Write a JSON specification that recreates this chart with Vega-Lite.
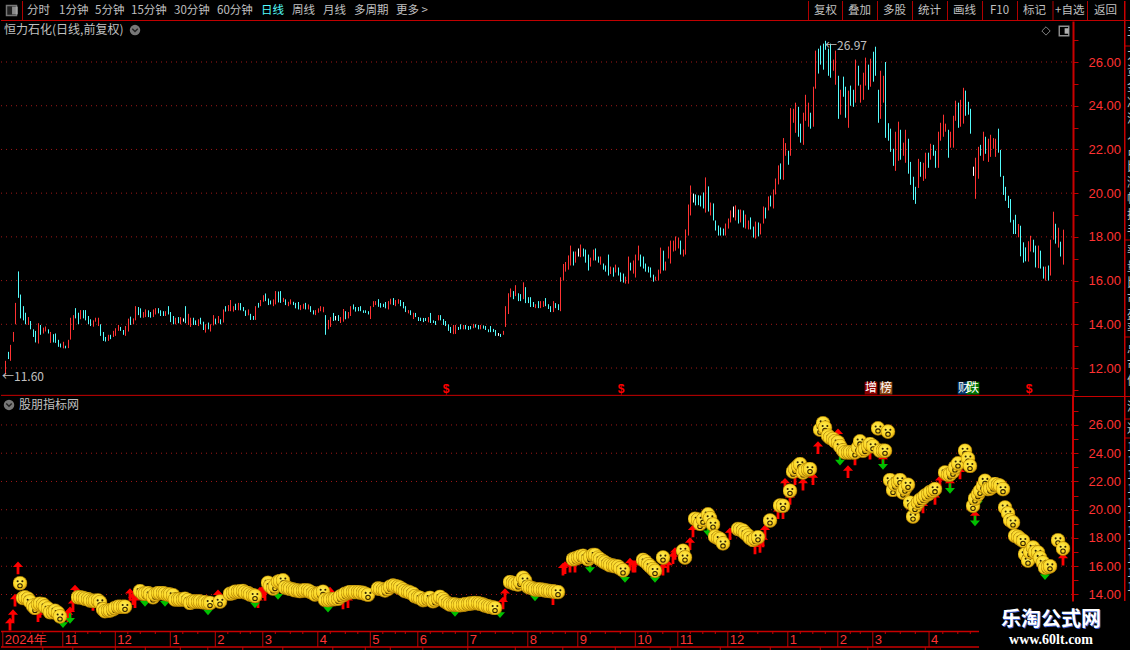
{
"$schema":"https://vega.github.io/schema/vega-lite/v6.json",
"background":"#000000",
"padding":0,
"spacing":0,
"bounds":"flush",
"resolve":{"scale":{"color":"independent"}},
"config":{"view":{"stroke":null},"text":{"font":"Noto Sans CJK SC"}},
"datasets":{
"bars":[
{"i":0,"l":11.7,"h":12.33,"c":"r"},{"i":1,"l":12.41,"h":12.74,"c":"b"},{"i":2,"l":12.33,"h":13.06,"c":"r"},{"i":3,"l":13.2,"h":13.65,"c":"r"},{"i":4,"l":14,"h":14.98,"c":"r"},{"i":5,"l":15.21,"h":16.42,"c":"b"},{"i":6,"l":14.27,"h":15.36,"c":"b","s":14.8},{"i":7,"l":14.18,"h":14.83,"c":"b","s":13.75},{"i":8,"l":14,"h":14.53,"c":"b","s":13.8},{"i":9,"l":13.97,"h":14.33,"c":"r","s":13.7},
{"i":10,"l":13.77,"h":14.15,"c":"b","s":13.5},{"i":11,"l":13.42,"h":13.77,"c":"b","s":13.2},{"i":12,"l":13.17,"h":13.7,"c":"b","s":13.05},{"i":13,"l":13.12,"h":14.05,"c":"r","s":13.3},{"i":14,"l":13.52,"h":13.97,"c":"b","s":13.35},{"i":15,"l":13.58,"h":13.85,"c":"r","s":13.3},{"i":16,"l":13.67,"h":13.9,"c":"r","s":13.15},{"i":17,"l":13.58,"h":13.77,"c":"b","s":13},{"i":18,"l":13.15,"h":13.65,"c":"r","s":12.75},{"i":19,"l":13.17,"h":13.55,"c":"b","s":12.75},
{"i":20,"l":13.15,"h":13.58,"c":"b","s":12.85},{"i":21,"l":12.97,"h":13.29,"c":"b","s":12.7},{"i":22,"l":12.94,"h":13.12,"c":"b","s":12.45},{"i":23,"l":12.9,"h":13.2,"c":"r"},{"i":24,"l":12.9,"h":13.02,"c":"b"},{"i":25,"l":12.91,"h":13.29,"c":"r"},{"i":26,"l":13.3,"h":14.3,"c":"r"},{"i":27,"l":13.74,"h":14.42,"c":"r"},{"i":28,"l":14.27,"h":14.74,"c":"b"},{"i":29,"l":14,"h":14.53,"c":"b","s":13.8},
{"i":30,"l":14.23,"h":14.65,"c":"r","s":13.8},{"i":31,"l":14.27,"h":14.65,"c":"b","s":13.76},{"i":32,"l":14.18,"h":14.65,"c":"b","s":13.7},{"i":33,"l":14,"h":14.38,"c":"b","s":13.67},{"i":34,"l":13.92,"h":14.23,"c":"b","s":13.58},{"i":35,"l":13.89,"h":14.18,"c":"r","s":13.55},{"i":36,"l":14.12,"h":14.3,"c":"r","s":13.55},{"i":37,"l":13.92,"h":14.3,"c":"r","s":13.58},{"i":38,"l":13.47,"h":14,"c":"b","s":13.45},{"i":39,"l":13.24,"h":13.65,"c":"b","s":12.95},
{"i":40,"l":13.21,"h":13.42,"c":"b","s":12.82},{"i":41,"l":13.24,"h":13.52,"c":"r","s":12.87},{"i":42,"l":13.32,"h":13.52,"c":"b","s":12.87},{"i":43,"l":13.42,"h":13.7,"c":"r","s":12.95},{"i":44,"l":13.47,"h":13.82,"c":"r","s":13.05},{"i":45,"l":13.7,"h":13.97,"c":"r","s":13.13},{"i":46,"l":13.7,"h":13.88,"c":"b","s":13.13},{"i":47,"l":13.52,"h":13.74,"c":"b","s":13.13},{"i":48,"l":13.47,"h":13.92,"c":"r","s":13.13},{"i":49,"l":13.67,"h":14.26,"c":"r"},
{"i":50,"l":13.97,"h":14.35,"c":"b"},{"i":51,"l":14,"h":14.27,"c":"r"},{"i":52,"l":14.18,"h":14.83,"c":"r"},{"i":53,"l":14.42,"h":14.79,"c":"b"},{"i":54,"l":14.3,"h":14.73,"c":"b","s":14.24},{"i":55,"l":14.3,"h":14.56,"c":"r","s":14.05},{"i":56,"l":14.33,"h":14.68,"c":"r","s":14.05},{"i":57,"l":14.33,"h":14.64,"c":"b","s":14.1},{"i":58,"l":14.3,"h":14.56,"c":"b","s":14},{"i":59,"l":14.33,"h":14.68,"c":"r","s":13.8},
{"i":60,"l":14.45,"h":14.74,"c":"r","s":14},{"i":61,"l":14.5,"h":14.74,"c":"b","s":14.1},{"i":62,"l":14.38,"h":14.64,"c":"b","s":14.1},{"i":63,"l":14.38,"h":14.6,"c":"b","s":14.1},{"i":64,"l":14.38,"h":14.6,"c":"r","s":14.05},{"i":65,"l":14.45,"h":14.83,"c":"b","s":14},{"i":66,"l":14.1,"h":14.56,"c":"b","s":14},{"i":67,"l":14,"h":14.38,"c":"b","s":13.95},{"i":68,"l":14,"h":14.3,"c":"r","s":13.65},{"i":69,"l":14.05,"h":14.33,"c":"b","s":13.65},
{"i":70,"l":14,"h":14.33,"c":"r","s":13.65},{"i":71,"l":14.12,"h":14.27,"c":"w","s":13.65},{"i":72,"l":14.05,"h":14.83,"c":"b","s":13.7},{"i":73,"l":13.97,"h":14.48,"c":"r","s":13.6},{"i":74,"l":13.88,"h":14.3,"c":"r","s":13.4},{"i":75,"l":13.97,"h":14.3,"c":"b","s":13.5},{"i":76,"l":13.97,"h":14.18,"c":"b","s":13.5},{"i":77,"l":13.92,"h":14.23,"c":"r","s":13.5},{"i":78,"l":14,"h":14.3,"c":"b","s":13.5},{"i":79,"l":13.74,"h":14.12,"c":"b","s":13.45},
{"i":80,"l":13.62,"h":14,"c":"r","s":13.45},{"i":81,"l":13.77,"h":14.08,"c":"b","s":13.4},{"i":82,"l":13.67,"h":14,"c":"r","s":13.4},{"i":83,"l":13.95,"h":14.42,"c":"r"},{"i":84,"l":14,"h":14.26,"c":"b"},{"i":85,"l":14.05,"h":14.38,"c":"r"},{"i":86,"l":14,"h":14.23,"c":"b","s":13.5},{"i":87,"l":14.08,"h":14.68,"c":"r"},{"i":88,"l":14.58,"h":14.83,"c":"b"},{"i":89,"l":14.6,"h":14.88,"c":"r"},
{"i":90,"l":14.6,"h":15.11,"c":"r","s":14.05},{"i":91,"l":14.58,"h":14.83,"c":"r","s":14.1},{"i":92,"l":14.65,"h":14.94,"c":"b","s":14.2},{"i":93,"l":14.64,"h":14.98,"c":"r","s":14.2},{"i":94,"l":14.64,"h":14.97,"c":"b","s":14.22},{"i":95,"l":14.6,"h":14.79,"c":"b","s":14.25},{"i":96,"l":14.38,"h":14.64,"c":"b","s":14.15},{"i":97,"l":14.41,"h":14.68,"c":"r","s":14.1},{"i":98,"l":14.2,"h":14.48,"c":"b","s":14},{"i":99,"l":14.2,"h":14.38,"c":"b","s":13.95},
{"i":100,"l":14.2,"h":14.83,"c":"r","s":13.9},{"i":101,"l":14.76,"h":14.98,"c":"b"},{"i":102,"l":14.83,"h":15.11,"c":"r"},{"i":103,"l":15.03,"h":15.33,"c":"r"},{"i":104,"l":15.06,"h":15.41,"c":"b"},{"i":105,"l":14.88,"h":15.18,"c":"b","s":14.83},{"i":106,"l":14.91,"h":15.09,"c":"b","s":14.6},{"i":107,"l":14.83,"h":15.14,"c":"r","s":14.43},{"i":108,"l":14.91,"h":15.52,"c":"r","s":14.6},{"i":109,"l":15,"h":15.5,"c":"b","s":14.9},
{"i":110,"l":14.98,"h":15.52,"c":"b","s":14.95},{"i":111,"l":15.02,"h":15.21,"c":"r","s":15},{"i":112,"l":14.88,"h":15.14,"c":"b","s":14.5},{"i":113,"l":14.83,"h":15.03,"c":"r","s":14.45},{"i":114,"l":14.91,"h":15.14,"c":"r","s":14.4},{"i":115,"l":14.88,"h":15.03,"c":"b","s":14.36},{"i":116,"l":14.73,"h":14.98,"c":"b","s":14.3},{"i":117,"l":14.68,"h":15.02,"c":"b","s":14.28},{"i":118,"l":14.65,"h":14.88,"c":"r","s":14.24},{"i":119,"l":14.71,"h":14.94,"c":"r","s":14.28},
{"i":120,"l":14.68,"h":14.98,"c":"b","s":14.3},{"i":121,"l":14.68,"h":14.91,"c":"r","s":14.28},{"i":122,"l":14.56,"h":14.83,"c":"b","s":14.2},{"i":123,"l":14.45,"h":14.64,"c":"b","s":14.1},{"i":124,"l":14.42,"h":14.65,"c":"r","s":14},{"i":125,"l":14.53,"h":14.73,"c":"r","s":14.05},{"i":126,"l":14.6,"h":14.83,"c":"r","s":14.1},{"i":127,"l":14.55,"h":14.8,"c":"r","s":14.2},{"i":128,"l":13.52,"h":14.42,"c":"b","s":13.62},{"i":129,"l":13.77,"h":14.2,"c":"r","s":13.6},
{"i":130,"l":13.88,"h":14.33,"c":"r","s":13.64},{"i":131,"l":14.15,"h":14.52,"c":"b","s":13.66},{"i":132,"l":14.18,"h":14.38,"c":"w","s":13.68},{"i":133,"l":14.15,"h":14.42,"c":"b","s":13.7},{"i":134,"l":14.06,"h":14.33,"c":"r","s":13.85},{"i":135,"l":14.12,"h":14.7,"c":"r","s":13.95},{"i":136,"l":14.23,"h":14.6,"c":"b","s":14.05},{"i":137,"l":14.27,"h":14.56,"c":"r","s":14.12},{"i":138,"l":14.38,"h":14.83,"c":"r","s":14.17},{"i":139,"l":14.68,"h":14.91,"c":"b","s":14.17},
{"i":140,"l":14.58,"h":14.79,"c":"b","s":14.17},{"i":141,"l":14.6,"h":14.79,"c":"b","s":14.17},{"i":142,"l":14.6,"h":14.83,"c":"b","s":14.14},{"i":143,"l":14.52,"h":14.64,"c":"b","s":14.12},{"i":144,"l":14.52,"h":14.64,"c":"b","s":14.05},{"i":145,"l":14.45,"h":14.6,"c":"b","s":13.98},{"i":146,"l":14.24,"h":14.83,"c":"r"},{"i":147,"l":14.79,"h":15.06,"c":"r"},{"i":148,"l":14.88,"h":15.06,"c":"r"},{"i":149,"l":14.8,"h":15.15,"c":"b","s":14.43},
{"i":150,"l":14.76,"h":14.97,"c":"b","s":14.4},{"i":151,"l":14.79,"h":14.94,"c":"b","s":14.35},{"i":152,"l":14.73,"h":15.02,"c":"b","s":14.29},{"i":153,"l":14.68,"h":15.06,"c":"r","s":14.4},{"i":154,"l":14.91,"h":15.17,"c":"r","s":14.55},{"i":155,"l":14.88,"h":15.2,"c":"b","s":14.64},{"i":156,"l":14.83,"h":15.11,"c":"r","s":14.6},{"i":157,"l":14.94,"h":15.15,"c":"r","s":14.55},{"i":158,"l":14.83,"h":15.11,"c":"b","s":14.48},{"i":159,"l":14.73,"h":15.02,"c":"b","s":14.35},
{"i":160,"l":14.56,"h":14.83,"c":"b","s":14.24},{"i":161,"l":14.5,"h":14.65,"c":"r","s":14.2},{"i":162,"l":14.42,"h":14.64,"c":"b","s":14.14},{"i":163,"l":14.24,"h":14.53,"c":"r","s":14.05},{"i":164,"l":14.33,"h":14.52,"c":"b","s":13.88},{"i":165,"l":14.15,"h":14.33,"c":"b","s":13.8},{"i":166,"l":14.15,"h":14.3,"c":"b","s":13.76},{"i":167,"l":14.1,"h":14.29,"c":"b","s":13.6},{"i":168,"l":14.15,"h":14.29,"c":"b","s":13.65},{"i":169,"l":14.09,"h":14.33,"c":"r","s":13.7},
{"i":170,"l":14.06,"h":14.52,"c":"b","s":13.76},{"i":171,"l":14.06,"h":14.18,"c":"b","s":13.52},{"i":172,"l":13.97,"h":14.15,"c":"b","s":13.6},{"i":173,"l":14.18,"h":14.42,"c":"r","s":13.72},{"i":174,"l":14.18,"h":14.42,"c":"b","s":13.83},{"i":175,"l":13.97,"h":14.24,"c":"b","s":13.68},{"i":176,"l":13.92,"h":14.15,"c":"b","s":13.5},{"i":177,"l":13.7,"h":14,"c":"b","s":13.38},{"i":178,"l":13.6,"h":13.88,"c":"b","s":13.29},{"i":179,"l":13.55,"h":13.97,"c":"r","s":13.29},
{"i":180,"l":13.56,"h":13.97,"c":"r","s":13.29},{"i":181,"l":13.74,"h":13.88,"c":"b","s":13.26},{"i":182,"l":13.77,"h":14,"c":"b","s":13.24},{"i":183,"l":13.77,"h":13.97,"c":"r","s":13.27},{"i":184,"l":13.77,"h":13.97,"c":"b","s":13.3},{"i":185,"l":13.74,"h":13.92,"c":"b","s":13.33},{"i":186,"l":13.77,"h":13.92,"c":"b","s":13.36},{"i":187,"l":13.82,"h":14.02,"c":"r","s":13.38},{"i":188,"l":13.85,"h":14,"c":"b","s":13.4},{"i":189,"l":13.77,"h":13.97,"c":"b","s":13.38},
{"i":190,"l":13.77,"h":13.97,"c":"r","s":13.34},{"i":191,"l":13.8,"h":13.95,"c":"b","s":13.29},{"i":192,"l":13.74,"h":13.92,"c":"b","s":13.22},{"i":193,"l":13.64,"h":13.77,"c":"b","s":13.17},{"i":194,"l":13.64,"h":13.92,"c":"b","s":13.12},{"i":195,"l":13.65,"h":13.79,"c":"b","s":13.08},{"i":196,"l":13.47,"h":13.74,"c":"b","s":13.05},{"i":197,"l":13.47,"h":13.6,"c":"w"},{"i":198,"l":13.42,"h":13.56,"c":"b"},{"i":199,"l":13.52,"h":13.7,"c":"r"},
{"i":200,"l":13.88,"h":14.83,"c":"r"},{"i":201,"l":14.47,"h":15.42,"c":"r"},{"i":202,"l":15.24,"h":15.64,"c":"r","s":14.88},{"i":203,"l":15.15,"h":15.52,"c":"b","s":14.82},{"i":204,"l":15.29,"h":15.79,"c":"r","s":14.75},{"i":205,"l":15.06,"h":15.42,"c":"b","s":14.71},{"i":206,"l":15.06,"h":15.38,"c":"b","s":14.9},{"i":207,"l":15.15,"h":15.92,"c":"r","s":15.19},{"i":208,"l":14.97,"h":15.7,"c":"b","s":15},{"i":209,"l":14.97,"h":15.24,"c":"b","s":14.55},
{"i":210,"l":14.79,"h":15.24,"c":"b","s":14.5},{"i":211,"l":14.79,"h":15.02,"c":"b","s":14.43},{"i":212,"l":14.74,"h":14.92,"c":"r","s":14.36},{"i":213,"l":14.74,"h":15.06,"c":"b","s":14.36},{"i":214,"l":14.74,"h":15.06,"c":"r","s":14.36},{"i":215,"l":14.79,"h":15.06,"c":"r","s":14.33},{"i":216,"l":14.83,"h":15.2,"c":"b","s":14.29},{"i":217,"l":14.7,"h":14.92,"c":"b","s":14.27},{"i":218,"l":14.56,"h":14.83,"c":"b","s":14.24},{"i":219,"l":14.56,"h":15.06,"c":"r","s":14.22},
{"i":220,"l":14.74,"h":14.97,"c":"b","s":14.2},{"i":221,"l":14.65,"h":14.92,"c":"b","s":14.17},{"i":222,"l":14.6,"h":16.15,"c":"r"},{"i":223,"l":16,"h":16.76,"c":"r"},{"i":224,"l":16.41,"h":16.85,"c":"r"},{"i":225,"l":16.5,"h":17.15,"c":"r"},{"i":226,"l":16.69,"h":17.6,"c":"r"},{"i":227,"l":16.69,"h":17.33,"c":"b","s":16.5},{"i":228,"l":16.82,"h":17.33,"c":"r","s":16.55},{"i":229,"l":17.1,"h":17.47,"c":"w","s":16.62},
{"i":230,"l":17.07,"h":17.65,"c":"r","s":16.68},{"i":231,"l":17.1,"h":17.47,"c":"b","s":16.74},{"i":232,"l":16.82,"h":17.42,"c":"b","s":16.65},{"i":233,"l":16.46,"h":17.19,"c":"b","s":16.5},{"i":234,"l":16.64,"h":17.05,"c":"r","s":16.65},{"i":235,"l":16.92,"h":17.42,"c":"r","s":16.8},{"i":236,"l":16.92,"h":17.47,"c":"b","s":16.8},{"i":237,"l":16.82,"h":17.1,"c":"b","s":16.6},{"i":238,"l":16.73,"h":17.1,"c":"r","s":16.5},{"i":239,"l":16.5,"h":16.78,"c":"b","s":16.35},
{"i":240,"l":16.41,"h":16.69,"c":"b","s":16.26},{"i":241,"l":16.23,"h":17.19,"c":"b","s":16.15},{"i":242,"l":16.3,"h":16.64,"c":"r","s":16.07},{"i":243,"l":16.18,"h":16.6,"c":"b","s":16.05},{"i":244,"l":16.37,"h":16.73,"c":"r","s":16},{"i":245,"l":16.23,"h":16.6,"c":"b","s":15.98},{"i":246,"l":15.95,"h":16.37,"c":"b","s":15.85},{"i":247,"l":15.91,"h":16.32,"c":"b","s":15.71},{"i":248,"l":15.86,"h":16.18,"c":"r"},{"i":249,"l":15.86,"h":17.1,"c":"r"},
{"i":250,"l":16.46,"h":16.82,"c":"b"},{"i":251,"l":16.32,"h":16.92,"c":"r"},{"i":252,"l":16.14,"h":17.19,"c":"r"},{"i":253,"l":16.92,"h":17.6,"c":"r"},{"i":254,"l":16.64,"h":17.19,"c":"b"},{"i":255,"l":16.55,"h":17.1,"c":"b","s":16.45},{"i":256,"l":16.41,"h":16.78,"c":"b","s":16.35},{"i":257,"l":16.37,"h":16.64,"c":"b","s":16.14},{"i":258,"l":16.14,"h":16.6,"c":"b","s":16},{"i":259,"l":15.95,"h":16.27,"c":"b","s":15.8},
{"i":260,"l":16,"h":16.18,"c":"r","s":15.67},{"i":261,"l":16,"h":16.5,"c":"r"},{"i":262,"l":16.32,"h":17.51,"c":"r"},{"i":263,"l":16.46,"h":17.37,"c":"b","s":16.62},{"i":264,"l":16.46,"h":16.87,"c":"r"},{"i":265,"l":17.01,"h":17.56,"c":"r"},{"i":266,"l":16.78,"h":17.83,"c":"r"},{"i":267,"l":17.33,"h":17.83,"c":"r"},{"i":268,"l":17.37,"h":18.02,"c":"r"},{"i":269,"l":17.47,"h":17.97,"c":"r"},
{"i":270,"l":17.19,"h":17.83,"c":"b"},{"i":271,"l":17.1,"h":17.42,"c":"r","s":17.1},{"i":272,"l":17.19,"h":18.34,"c":"r","s":16.62},{"i":273,"l":18.06,"h":19.48,"c":"r"},{"i":274,"l":18.98,"h":20.35,"c":"r"},{"i":275,"l":19.57,"h":19.98,"c":"w"},{"i":276,"l":19.44,"h":19.94,"c":"b","s":19.36},{"i":277,"l":19.45,"h":19.9,"c":"b","s":19.3},{"i":278,"l":19.39,"h":19.89,"c":"b","s":19},{"i":279,"l":19.3,"h":20.03,"c":"b","s":19.3},
{"i":280,"l":19.11,"h":20.72,"c":"r"},{"i":281,"l":19.16,"h":20.31,"c":"b","s":19.67},{"i":282,"l":18.98,"h":19.57,"c":"r","s":19.4},{"i":283,"l":18.75,"h":19.53,"c":"b","s":18.95},{"i":284,"l":18.29,"h":18.75,"c":"b","s":18.1},{"i":285,"l":18.06,"h":18.52,"c":"b","s":18},{"i":286,"l":18.06,"h":18.43,"c":"b","s":17.93},{"i":287,"l":18.06,"h":18.38,"c":"b","s":17.62},{"i":288,"l":18.06,"h":18.61,"c":"r"},{"i":289,"l":18.38,"h":18.84,"c":"r"},
{"i":290,"l":18.66,"h":19.21,"c":"r"},{"i":291,"l":18.89,"h":19.39,"c":"w"},{"i":292,"l":18.75,"h":19.44,"c":"r"},{"i":293,"l":18.61,"h":19.25,"c":"b","s":18.64},{"i":294,"l":18.66,"h":19.25,"c":"r","s":18.6},{"i":295,"l":18.43,"h":19.21,"c":"b","s":18.52},{"i":296,"l":18.38,"h":19.02,"c":"r","s":18.35},{"i":297,"l":18.34,"h":18.75,"c":"r","s":18.17},{"i":298,"l":18.34,"h":18.89,"c":"b","s":18},{"i":299,"l":17.97,"h":18.47,"c":"b","s":17.86},
{"i":300,"l":17.92,"h":18.7,"c":"r","s":17.95},{"i":301,"l":18.02,"h":18.66,"c":"b","s":18.05},{"i":302,"l":18.11,"h":18.61,"c":"r"},{"i":303,"l":18.61,"h":19.39,"c":"r"},{"i":304,"l":18.84,"h":19.34,"c":"b"},{"i":305,"l":19.21,"h":19.85,"c":"r"},{"i":306,"l":19.39,"h":19.89,"c":"b","s":19.24},{"i":307,"l":19.3,"h":20.17,"c":"r"},{"i":308,"l":19.94,"h":20.67,"c":"r"},{"i":309,"l":20.4,"h":21.27,"c":"r"},
{"i":310,"l":20.63,"h":21.36,"c":"b","s":20.3},{"i":311,"l":20.61,"h":22.52,"c":"r","s":20.28},{"i":312,"l":21.71,"h":22.29,"c":"r"},{"i":313,"l":21.3,"h":21.94,"c":"b"},{"i":314,"l":21.71,"h":23.89,"c":"r","s":21.34},{"i":315,"l":23.22,"h":23.86,"c":"r","s":22.7},{"i":316,"l":22.76,"h":24.14,"c":"r","s":22.9},{"i":317,"l":22.58,"h":23.95,"c":"b","s":23.1},{"i":318,"l":22.31,"h":23.18,"c":"b","s":23.23},{"i":319,"l":22.21,"h":23.68,"c":"r","s":22.64},
{"i":320,"l":23.31,"h":24.5,"c":"r","s":22.8},{"i":321,"l":23.04,"h":24.14,"c":"r","s":22.85},{"i":322,"l":22.95,"h":23.68,"c":"b","s":22.88},{"i":323,"l":23.04,"h":24.87,"c":"r"},{"i":324,"l":24.78,"h":26.52,"c":"r"},{"i":325,"l":25.47,"h":26.61,"c":"b"},{"i":326,"l":25.88,"h":26.75,"c":"b","s":25.67},{"i":327,"l":25.65,"h":26.84,"c":"b","s":26.12},{"i":328,"l":26.56,"h":26.97,"c":"b","s":25.8},{"i":329,"l":25.37,"h":26.61,"c":"b","s":25.24},
{"i":330,"l":25.28,"h":26.84,"c":"b","s":25.1},{"i":331,"l":25.6,"h":26.11,"c":"r","s":25},{"i":332,"l":24.96,"h":26.52,"c":"r","s":24.85},{"i":333,"l":23.4,"h":25.37,"c":"b","s":24.77},{"i":334,"l":23.59,"h":24.73,"c":"r","s":24.5},{"i":335,"l":24.41,"h":25.33,"c":"b","s":24.2},{"i":336,"l":23.45,"h":24.87,"c":"b","s":24.06},{"i":337,"l":22.99,"h":24.69,"c":"r","s":24.06},{"i":338,"l":24,"h":24.92,"c":"b","s":24.06},{"i":339,"l":23.95,"h":24.73,"c":"b","s":24.06},
{"i":340,"l":24.14,"h":26.11,"c":"r","s":24.06},{"i":341,"l":24.92,"h":25.83,"c":"b","s":24.4},{"i":342,"l":24.14,"h":24.96,"c":"r","s":24.84},{"i":343,"l":24.27,"h":25.51,"c":"r","s":24.18},{"i":344,"l":24.92,"h":26.2,"c":"r","s":24.3},{"i":345,"l":24.73,"h":25.88,"c":"b","s":24.5},{"i":346,"l":24.87,"h":26.15,"c":"r","s":24.65},{"i":347,"l":25.1,"h":26.47,"c":"b","s":24.5},{"i":348,"l":25.37,"h":26.7,"c":"b"},{"i":349,"l":23.22,"h":24.73,"c":"b","s":25.76},
{"i":350,"l":23.4,"h":25.6,"c":"r","s":24.18},{"i":351,"l":24.14,"h":25.37,"c":"r","s":24.18},{"i":352,"l":22.53,"h":26,"c":"b","s":24.18},{"i":353,"l":22.4,"h":23.2,"c":"b","s":25.53},{"i":354,"l":21.89,"h":22.95,"c":"b","s":22.1},{"i":355,"l":21.25,"h":22.03,"c":"b","s":21.4},{"i":356,"l":21.02,"h":22.81,"c":"r","s":21.8},{"i":357,"l":21.48,"h":23.27,"c":"r","s":21.95},{"i":358,"l":21.53,"h":22.9,"c":"b","s":22.1},{"i":359,"l":21.71,"h":22.31,"c":"r","s":21.22},
{"i":360,"l":21.39,"h":22.9,"c":"r","s":21.5},{"i":361,"l":20.89,"h":22.49,"c":"b","s":21.77},{"i":362,"l":20.38,"h":21.43,"c":"b","s":20.5},{"i":363,"l":19.69,"h":20.75,"c":"b","s":19.52},{"i":364,"l":19.51,"h":20.29,"c":"b","s":20.2},{"i":365,"l":20.24,"h":21.57,"c":"r","s":20.5},{"i":366,"l":20.75,"h":21.43,"c":"b","s":20.7},{"i":367,"l":20.56,"h":21.39,"c":"r","s":20.85},{"i":368,"l":20.66,"h":21.85,"c":"r","s":21},{"i":369,"l":21.16,"h":21.85,"c":"b","s":21.1},
{"i":370,"l":21.53,"h":22.26,"c":"r","s":21.25},{"i":371,"l":21.71,"h":22.21,"c":"b","s":21.35},{"i":372,"l":21.16,"h":21.94,"c":"b","s":21.46},{"i":373,"l":21.16,"h":22.81,"c":"r"},{"i":374,"l":22.4,"h":23.22,"c":"r"},{"i":375,"l":22.58,"h":23.59,"c":"r"},{"i":376,"l":22.81,"h":23.18,"c":"r","s":22.64},{"i":377,"l":21.62,"h":22.9,"c":"b","s":22.48},{"i":378,"l":22.08,"h":22.81,"c":"r","s":22.5},{"i":379,"l":22.08,"h":23.54,"c":"r","s":22.7},
{"i":380,"l":23.31,"h":24.23,"c":"r","s":23},{"i":381,"l":22.99,"h":24.14,"c":"b","s":23.28},{"i":382,"l":23.04,"h":24.27,"c":"r"},{"i":383,"l":23.18,"h":24.82,"c":"r"},{"i":384,"l":23.54,"h":24.69,"c":"b","s":24.18},{"i":385,"l":23.59,"h":24.18,"c":"b","s":23.63},{"i":386,"l":22.72,"h":23.86,"c":"b","s":23.1},{"i":387,"l":20.79,"h":21.21,"c":"w","s":20.28},{"i":388,"l":19.74,"h":21.62,"c":"r","s":20.8},{"i":389,"l":20.66,"h":22.12,"c":"r","s":21.1},
{"i":390,"l":21.71,"h":22.21,"c":"b","s":21.34},{"i":391,"l":21.48,"h":22.81,"c":"r","s":21.7},{"i":392,"l":21.8,"h":22.58,"c":"b","s":22.05},{"i":393,"l":21.43,"h":22.49,"c":"r","s":21.46},{"i":394,"l":21.66,"h":22.67,"c":"r","s":21.5},{"i":395,"l":22.03,"h":22.52,"c":"r","s":21.65},{"i":396,"l":21.66,"h":22.49,"c":"r","s":21.82},{"i":397,"l":21.85,"h":22.95,"c":"b","s":21.75},{"i":398,"l":20.75,"h":21.98,"c":"b","s":21.7},{"i":399,"l":19.92,"h":20.79,"c":"b","s":21.46},
{"i":400,"l":19.65,"h":20.29,"c":"b","s":20.16},{"i":401,"l":19.32,"h":19.88,"c":"b","s":19.74},{"i":402,"l":18.66,"h":19.73,"c":"b","s":19.26},{"i":403,"l":18.13,"h":18.78,"c":"b","s":19.1},{"i":404,"l":18.13,"h":19.01,"c":"b","s":18.15},{"i":405,"l":17.98,"h":18.59,"c":"r","s":18.08},{"i":406,"l":17.11,"h":18.51,"c":"b","s":17.95},{"i":407,"l":16.82,"h":17.75,"c":"b","s":17.8},{"i":408,"l":16.88,"h":17.52,"c":"b","s":16.85},{"i":409,"l":16.87,"h":17.8,"c":"r","s":16.4},
{"i":410,"l":17.33,"h":18.05,"c":"r","s":17},{"i":411,"l":17.29,"h":17.87,"c":"b","s":17.32},{"i":412,"l":16.6,"h":17.6,"c":"b","s":17},{"i":413,"l":16.57,"h":17.6,"c":"r","s":16.97},{"i":414,"l":16.55,"h":17.37,"c":"b","s":16.6},{"i":415,"l":16.09,"h":16.64,"c":"b","s":16.26},{"i":416,"l":16,"h":16.64,"c":"r","s":15.9},{"i":417,"l":16,"h":16.69,"c":"b","s":15.95},{"i":418,"l":16.23,"h":17.87,"c":"r","s":16},{"i":419,"l":17.87,"h":19.15,"c":"r"},
{"i":420,"l":17.69,"h":18.6,"c":"b"},{"i":421,"l":17.51,"h":18.42,"c":"r","s":17.84},{"i":422,"l":17.1,"h":17.78,"c":"b"},{"i":423,"l":16.73,"h":18.33,"c":"r","s":17.25}
],
"arrows":[
{"i":5,"a":15.88,"t":"u"},{"i":3,"a":12.5,"t":"u"},{"i":2,"a":11.9,"t":"u"},{"i":4,"a":13.6,"t":"u"},{"i":13,"a":12.5,"t":"u"},{"i":14,"a":12.8,"t":"u"},{"i":25,"a":12.5,"t":"u"},{"i":26,"a":12.7,"t":"u"},{"i":27,"a":13.3,"t":"u"},{"i":28,"a":14.25,"t":"u"},{"i":35,"a":13.3,"t":"u"},{"i":50,"a":14,"t":"u"},{"i":51,"a":13.7,"t":"u"},{"i":52,"a":13.5,"t":"u"},{"i":85,"a":13.9,"t":"u"},{"i":101,"a":13.5,"t":"u"},{"i":102,"a":14.1,"t":"u"},{"i":103,"a":14.2,"t":"u"},{"i":104,"a":14,"t":"u"},{"i":130,"a":14.1,"t":"u"},{"i":135,"a":13.4,"t":"u"},{"i":137,"a":13.5,"t":"u"},{"i":199,"a":13.4,"t":"u"},{"i":200,"a":14,"t":"u"},{"i":219,"a":13.7,"t":"u"},{"i":223,"a":15.8,"t":"u"},{"i":224,"a":15.9,"t":"u"},{"i":226,"a":16,"t":"u"},{"i":228,"a":16,"t":"u"},{"i":250,"a":16.15,"t":"u"},{"i":251,"a":16,"t":"u"},{"i":252,"a":16,"t":"u"},{"i":263,"a":15.8,"t":"u"},{"i":265,"a":16,"t":"u"},{"i":267,"a":16.6,"t":"u"},{"i":268,"a":16.9,"t":"u"},{"i":274,"a":17.6,"t":"u"},{"i":275,"a":18.5,"t":"u"},{"i":290,"a":18.3,"t":"u"},{"i":300,"a":17.3,"t":"u"},{"i":302,"a":17.4,"t":"u"},{"i":303,"a":17.8,"t":"u"},{"i":304,"a":18.5,"t":"u"},{"i":309,"a":19.8,"t":"u"},{"i":311,"a":19.8,"t":"u"},{"i":312,"a":21.8,"t":"u"},{"i":314,"a":20.8,"t":"u"},{"i":316,"a":22.2,"t":"u"},{"i":319,"a":21.8,"t":"u"},{"i":323,"a":22.2,"t":"u"},{"i":325,"a":24.4,"t":"u"},{"i":333,"a":25.3,"t":"u"},{"i":337,"a":22.7,"t":"u"},{"i":340,"a":23.6,"t":"u"},{"i":346,"a":24,"t":"u"},{"i":351,"a":23.5,"t":"u"},{"i":364,"a":19.9,"t":"u"},{"i":367,"a":20.2,"t":"u"},{"i":372,"a":20.8,"t":"u"},{"i":374,"a":22,"t":"u"},{"i":378,"a":21.8,"t":"u"},{"i":380,"a":22.7,"t":"u"},{"i":382,"a":22.6,"t":"u"},{"i":388,"a":19.5,"t":"u"},{"i":423,"a":16.5,"t":"u"},
{"i":23,"a":12,"t":"d"},{"i":26,"a":12.3,"t":"d"},{"i":56,"a":13.5,"t":"d"},{"i":64,"a":13.5,"t":"d"},{"i":81,"a":12.9,"t":"d"},{"i":100,"a":13.4,"t":"d"},{"i":109,"a":14,"t":"d"},{"i":129,"a":13.1,"t":"d"},{"i":180,"a":12.8,"t":"d"},{"i":198,"a":12.7,"t":"d"},{"i":212,"a":13.9,"t":"d"},{"i":234,"a":15.9,"t":"d"},{"i":248,"a":15.2,"t":"d"},{"i":260,"a":15.2,"t":"d"},{"i":281,"a":18.5,"t":"d"},{"i":334,"a":23.5,"t":"d"},{"i":351,"a":23.2,"t":"d"},{"i":364,"a":20,"t":"d"},{"i":378,"a":21.5,"t":"d"},{"i":388,"a":19.2,"t":"d"},{"i":389,"a":20.6,"t":"d"},{"i":416,"a":15.4,"t":"d"}
],
"months":[
{"i":-1,"m":"2024年"},{"i":23,"m":"11"},{"i":44,"m":"12"},{"i":66,"m":"1"},{"i":84,"m":"2"},{"i":103,"m":"3"},{"i":125,"m":"4"},{"i":146,"m":"5"},{"i":165,"m":"6"},{"i":185,"m":"7"},{"i":209,"m":"8"},{"i":229,"m":"9"},{"i":252,"m":"10"},{"i":269,"m":"11"},{"i":289,"m":"12"},{"i":313,"m":"1"},{"i":333,"m":"2"},{"i":347,"m":"3"},{"i":369.5,"m":"4"}
],
"minor":[
{"i":10},{"i":15},{"i":28},{"i":33},{"i":38},{"i":49},{"i":54},{"i":60},{"i":71},{"i":77},{"i":89},{"i":94},{"i":98},{"i":108},{"i":114},{"i":119},{"i":130},{"i":136},{"i":141},{"i":151},{"i":156},{"i":160},{"i":170},{"i":175},{"i":180},{"i":190},{"i":196},{"i":203},{"i":214},{"i":219},{"i":224},{"i":234},{"i":240},{"i":246},{"i":257},{"i":263},{"i":274},{"i":279},{"i":284},{"i":294},{"i":301},{"i":307},{"i":318},{"i":323},{"i":328},{"i":338},{"i":342},{"i":352},{"i":358},{"i":364},{"i":375},{"i":381},{"i":386}
],
"lower":[
{"i":15},{"i":27},{"i":44},{"i":56},{"i":70},{"i":81},{"i":95},{"i":111},{"i":131},{"i":144},{"i":154},{"i":167},{"i":185},{"i":204},{"i":223},{"i":244},{"i":266},{"i":286},{"i":306},{"i":326},{"i":345},{"i":368}
]
},
"vconcat":[
{"width":1130,"height":20,
"data":{"values":[
{"p":26,"t":"分时","c":"g"},{"p":58,"t":"1分钟","c":"g"},{"p":94,"t":"5分钟","c":"g"},{"p":130,"t":"15分钟","c":"g"},{"p":173,"t":"30分钟","c":"g"},{"p":216,"t":"60分钟","c":"g"},{"p":260,"t":"日线","c":"a"},{"p":291,"t":"周线","c":"g"},{"p":322,"t":"月线","c":"g"},{"p":353,"t":"多周期","c":"g"},{"p":395,"t":"更多 >","c":"g"},{"p":813,"t":"复权","c":"g"},{"p":847,"t":"叠加","c":"g"},{"p":882,"t":"多股","c":"g"},{"p":917,"t":"统计","c":"g"},{"p":952,"t":"画线","c":"g"},{"p":989,"t":"F10","c":"g"},{"p":1022,"t":"标记","c":"g"},{"p":1054,"t":"+自选","c":"g"},{"p":1093,"t":"返回","c":"g"}
]},
"layer":[
{"mark":{"type":"text","align":"left","baseline":"middle","fontSize":11.5},
"encoding":{"x":{"field":"p","type":"quantitative","scale":{"domain":[0,1130],"nice":false},"axis":null},"y":{"datum":9.5,"type":"quantitative","scale":{"domain":[20,0],"nice":false},"axis":null},"text":{"field":"t"},"color":{"field":"c","scale":{"domain":["g","a"],"range":["#c0c0c0","#54fcfc"]},"legend":null}}},
{"data":{"values":[{"p":21.5},{"p":807.5},{"p":841.5},{"p":876.5},{"p":911.5},{"p":946.5},{"p":981.5},{"p":1016.5},{"p":1052},{"p":1086.5}]},
"mark":{"type":"rule","color":"#b00000","strokeWidth":1},
"encoding":{"x":{"field":"p","type":"quantitative"},"y":{"datum":0,"type":"quantitative"},"y2":{"datum":19}}},
{"data":{"values":[{"p":1123,"p2":1124.5,"r":0,"r2":600}]},
"mark":{"type":"rect","color":"#c80000"},
"encoding":{"x":{"field":"p","type":"quantitative"},"x2":{"field":"p2"},"y":{"field":"r","type":"quantitative"},"y2":{"field":"r2"}}},
{"data":{"values":[{"p":0,"p2":1130}]},
"mark":{"type":"rule","color":"#c00000","strokeWidth":1},
"encoding":{"x":{"field":"p","type":"quantitative"},"x2":{"field":"p2"},"y":{"datum":19.5,"type":"quantitative"}}},
{"data":{"values":[{"p":1123.5,"p2":1130,"r":45},{"p":1123.5,"p2":1130,"r":239},{"p":1123.5,"p2":1130,"r":336},{"p":1072,"p2":1130,"r":395.5},{"p":1123.5,"p2":1130,"r":418},{"p":1123.5,"p2":1130,"r":437}]},
"mark":{"type":"rule","color":"#c80000","strokeWidth":1},
"encoding":{"x":{"field":"p","type":"quantitative"},"x2":{"field":"p2"},"y":{"field":"r","type":"quantitative"}}},
{"data":{"values":[{"r":30,"t":"主"},{"r":54,"t":"力"},{"r":70,"t":"资"},{"r":86,"t":"金"},{"r":102,"t":"净"},{"r":118,"t":"流"},{"r":134,"t":"入"},{"r":150,"t":"占"},{"r":166,"t":"比"},{"r":182,"t":"涨"},{"r":198,"t":"幅"},{"r":214,"t":"换"},{"r":230,"t":"手"},{"r":250,"t":"率"},{"r":266,"t":"量"},{"r":282,"t":"比"},{"r":298,"t":"市"},{"r":314,"t":"盈"},{"r":328,"t":"率"},{"r":348,"t":"总"},{"r":364,"t":"市"},{"r":380,"t":"值"},{"r":406,"t":"流"},{"r":428,"t":"通"},{"r":446,"t":"1"},{"r":460,"t":"1"},{"r":474,"t":"1"},{"r":488,"t":"1"},{"r":502,"t":"1"},{"r":516,"t":"1"},{"r":530,"t":"1"},{"r":544,"t":"1"},{"r":558,"t":"1"},{"r":572,"t":"1"},{"r":586,"t":"1"}]},
"mark":{"type":"text","align":"left","baseline":"middle","fontSize":12,"color":"#c0c0c0"},
"encoding":{"x":{"datum":1126,"type":"quantitative"},"y":{"field":"r","type":"quantitative"},"text":{"field":"t"}}},
{"data":{"values":[{"p":10.5}]},
"mark":{"type":"point","shape":"square","size":100,"stroke":"#a8a8a8","strokeWidth":1.5,"fill":"#303030","filled":false},
"encoding":{"x":{"field":"p","type":"quantitative"},"y":{"datum":9.5,"type":"quantitative"}}},
{"data":{"values":[{"p":13}]},
"mark":{"type":"point","shape":"M-0.5,-1L1,-1L1,1L-0.5,1Z","size":60,"filled":true,"fill":"#b8b8b8"},
"encoding":{"x":{"field":"p","type":"quantitative"},"y":{"datum":9.5,"type":"quantitative"}}}
]},
{"width":1072,"height":375,
"layer":[
{"data":{"values":[{"i":-1.72,"i2":427.08,"v":12},{"i":-1.72,"i2":427.08,"v":14},{"i":-1.72,"i2":427.08,"v":16},{"i":-1.72,"i2":427.08,"v":18},{"i":-1.72,"i2":427.08,"v":20},{"i":-1.72,"i2":427.08,"v":22},{"i":-1.72,"i2":427.08,"v":24},{"i":-1.72,"i2":427.08,"v":26}]},
"mark":{"type":"rule","color":"#a01818","strokeWidth":1,"strokeDash":[1,4]},
"encoding":{
"x":{"field":"i","type":"quantitative","scale":{"domain":[-1.72,427.08],"nice":false,"zero":false,"round":true},"axis":null},
"x2":{"field":"i2"},
"y":{"field":"v","type":"quantitative","scale":{"domain":[10.72,27.876],"nice":false,"zero":false},
"axis":{"orient":"right","title":null,"values":[11,12,13,14,15,16,17,18,19,20,21,22,23,24,25,26,27],"tickCount":40,"labelOverlap":false,"labelExpr":"datum.value % 2 == 0 ? format(datum.value,'.2f') : ''","labelColor":"#ff3232","labelFont":"Liberation Sans","labelFontSize":13,"labelPadding":10,"tickColor":"#c00000","tickSize":5,"domainColor":"#c80000","domainWidth":2,"grid":false}}}},
{"data":{"name":"bars"},
"mark":{"type":"rule","strokeWidth":1,"xOffset":0.5},
"encoding":{
"x":{"field":"i","type":"quantitative"},
"y":{"field":"l","type":"quantitative"},
"y2":{"field":"h"},
"color":{"field":"c","scale":{"domain":["r","b","w"],"range":["#ff3232","#54fcfc","#ffffff"]},"legend":null}}},
{"data":{"values":[{"i":-1.72,"i2":427.08,"v":10.75}]},
"mark":{"type":"rule","color":"#c80000","strokeWidth":1},
"encoding":{"x":{"field":"i","type":"quantitative"},"x2":{"field":"i2"},"y":{"field":"v","type":"quantitative"}}},
{"data":{"values":[{"i":-0.6,"v":27.46,"t":"恒力石化(日线,前复权)"},{"i":-1.5,"v":11.59,"t":"←11.60"},{"i":328,"v":26.73,"t":"←26.97"}]},
"mark":{"type":"text","align":"left","baseline":"middle","fontSize":12,"color":"#c0c0c0"},
"encoding":{"x":{"field":"i","type":"quantitative"},"y":{"field":"v","type":"quantitative"},"text":{"field":"t"}}},
{"data":{"values":[{"i":176.3},{"i":246.3},{"i":409.5}]},
"mark":{"type":"text","fontSize":12,"fontWeight":"bold","color":"#ff0000","font":"Liberation Sans"},
"encoding":{"x":{"field":"i","type":"quantitative"},"y":{"datum":11.04,"type":"quantitative"},"text":{"value":"$"}}},
{"data":{"values":[{"i":346.2,"k":"z"},{"i":352.2,"k":"b"},{"i":383.6,"k":"c"},{"i":387.2,"k":"d"}]},
"mark":{"type":"point","shape":"square","filled":true,"size":160,"opacity":1},
"encoding":{"x":{"field":"i","type":"quantitative"},"y":{"datum":11.08,"type":"quantitative"},"fill":{"field":"k","scale":{"domain":["z","b","c","d"],"range":["#8b0000","#8b4513","#003366","#007000"]},"legend":null},"stroke":{"value":null}}},
{"data":{"values":[{"i":346.2,"t":"增"},{"i":352.2,"t":"榜"},{"i":383.6,"t":"财"},{"i":387.2,"t":"跌"}]},
"mark":{"type":"text","fontSize":12,"color":"#ffffff"},
"encoding":{"x":{"field":"i","type":"quantitative"},"y":{"datum":11.08,"type":"quantitative"},"text":{"field":"t"}}},
{"data":{"values":[{"i":51.9}]},
"mark":{"type":"point","shape":"circle","filled":true,"fill":"#777777","size":110,"opacity":1},
"encoding":{"x":{"field":"i","type":"quantitative"},"y":{"datum":27.46,"type":"quantitative"}}},
{"data":{"values":[{"i":51.9}]},
"mark":{"type":"point","shape":"M-1,-0.5L0,0.5L1,-0.5","size":30,"stroke":"#222222","strokeWidth":1.4,"filled":false,"opacity":1},
"encoding":{"x":{"field":"i","type":"quantitative"},"y":{"datum":27.46,"type":"quantitative"}}},
{"data":{"values":[{"i":416.3}]},
"mark":{"type":"point","shape":"diamond","size":70,"stroke":"#808080","strokeWidth":1,"filled":false,"opacity":1},
"encoding":{"x":{"field":"i","type":"quantitative"},"y":{"datum":27.42,"type":"quantitative"}}},
{"data":{"values":[{"i":423.4}]},
"mark":{"type":"point","shape":"square","size":90,"stroke":"#909090","strokeWidth":1.4,"filled":false,"opacity":1},
"encoding":{"x":{"field":"i","type":"quantitative"},"y":{"datum":27.42,"type":"quantitative"}}},
{"data":{"values":[{"i":424.3}]},
"mark":{"type":"point","shape":"M-0.5,-1L1,-1L1,1L-0.5,1Z","size":30,"filled":true,"fill":"#b0b0b0","opacity":1},
"encoding":{"x":{"field":"i","type":"quantitative"},"y":{"datum":27.42,"type":"quantitative"}}}
]},
{"width":1072,"height":235,
"layer":[
{"data":{"values":[{"i":-1.72,"i2":427.08,"v":14},{"i":-1.72,"i2":427.08,"v":16},{"i":-1.72,"i2":427.08,"v":18},{"i":-1.72,"i2":427.08,"v":20},{"i":-1.72,"i2":427.08,"v":22},{"i":-1.72,"i2":427.08,"v":24},{"i":-1.72,"i2":427.08,"v":26}]},
"mark":{"type":"rule","color":"#a01818","strokeWidth":1,"strokeDash":[1,4]},
"encoding":{
"x":{"field":"i","type":"quantitative","scale":{"domain":[-1.72,427.08],"nice":false,"zero":false,"round":true},"axis":null},
"x2":{"field":"i2"},
"y":{"field":"v","type":"quantitative","scale":{"domain":[11.416,28.05],"nice":false,"zero":false},
"axis":{"orient":"right","title":null,"values":[14,15,16,17,18,19,20,21,22,23,24,25,26,27],"tickCount":40,"labelOverlap":false,"labelExpr":"datum.value % 2 == 0 ? format(datum.value,'.2f') : ''","labelColor":"#ff3232","labelFont":"Liberation Sans","labelFontSize":13,"labelPadding":10,"tickColor":"#c00000","tickSize":5,"domain":false,"grid":false}}}},
{"data":{"name":"arrows"},
"transform":[{"filter":"datum.t == 'u'"}],
"mark":{"type":"point","shape":"M0,-1L0.8,-0.15L0.22,-0.15L0.22,1L-0.22,1L-0.22,-0.15L-0.8,-0.15Z","size":160,"filled":true,"fill":"#ff0000","opacity":1},
"encoding":{"x":{"field":"i","type":"quantitative"},"y":{"field":"a","type":"quantitative"}}},
{"data":{"name":"arrows"},
"transform":[{"filter":"datum.t == 'd'"}],
"mark":{"type":"point","shape":"M-0.22,-1L0.22,-1L0.22,-0.1L0.95,-0.1L0,1L-0.95,-0.1L-0.22,-0.1Z","size":110,"filled":true,"fill":"#00c000","opacity":1},
"encoding":{"x":{"field":"i","type":"quantitative"},"y":{"field":"a","type":"quantitative"}}},
{"data":{"name":"bars"},
"transform":[{"filter":"isValid(datum.s)"}],
"mark":{"type":"image","width":15,"height":15,"align":"center","baseline":"middle","url":"data:image/svg+xml,%3Csvg xmlns='http://www.w3.org/2000/svg' width='32' height='32' viewBox='0 0 32 32'%3E%3Cdefs%3E%3CradialGradient id='g' cx='0.44' cy='0.4' r='0.62'%3E%3Cstop offset='0' stop-color='%23fff05a'/%3E%3Cstop offset='0.65' stop-color='%23fbd626'/%3E%3Cstop offset='1' stop-color='%23d8a010'/%3E%3C/radialGradient%3E%3C/defs%3E%3Ccircle cx='16' cy='16' r='15' fill='url(%23g)' stroke='%23a87c00' stroke-width='1.3'/%3E%3Ccircle cx='11' cy='12' r='2.2' fill='%23302000'/%3E%3Ccircle cx='21' cy='12' r='2.2' fill='%23302000'/%3E%3Cellipse cx='16' cy='21.5' rx='4.8' ry='4.4' fill='%23fbd626' stroke='%23302000' stroke-width='2.2'/%3E%3C/svg%3E"},
"encoding":{"x":{"field":"i","type":"quantitative"},"y":{"field":"s","type":"quantitative"}}},
{"data":{"values":[{"i":427.08,"v":28.05,"v2":13.5}]},
"mark":{"type":"rule","color":"#c80000","strokeWidth":2},
"encoding":{"x":{"field":"i","type":"quantitative"},"y":{"field":"v","type":"quantitative"},"y2":{"field":"v2"}}},
{"data":{"values":[{"i":1.6}]},
"mark":{"type":"point","shape":"circle","filled":true,"fill":"#777777","size":110,"opacity":1},
"encoding":{"x":{"field":"i","type":"quantitative"},"y":{"datum":27.42,"type":"quantitative"}}},
{"data":{"values":[{"i":1.6}]},
"mark":{"type":"point","shape":"M-1,-0.5L0,0.5L1,-0.5","size":30,"stroke":"#222222","strokeWidth":1.4,"filled":false,"opacity":1},
"encoding":{"x":{"field":"i","type":"quantitative"},"y":{"datum":27.42,"type":"quantitative"}}},
{"data":{"values":[{"i":5.5,"t":"股朋指标网"}]},
"mark":{"type":"text","align":"left","baseline":"middle","fontSize":12,"color":"#c0c0c0"},
"encoding":{"x":{"field":"i","type":"quantitative"},"y":{"datum":27.42,"type":"quantitative"},"text":{"field":"t"}}},
{"data":{"values":[{"i":418.3,"t":"乐淘公式网"}]},
"mark":{"type":"text","fontSize":20,"fontWeight":"bold","color":"#4060d0","dx":1,"dy":1},
"encoding":{"x":{"field":"i","type":"quantitative"},"y":{"datum":12.19,"type":"quantitative"},"text":{"field":"t"}}},
{"data":{"values":[{"i":418.3,"t":"乐淘公式网"}]},
"mark":{"type":"text","fontSize":20,"fontWeight":"bold","color":"#ffffff"},
"encoding":{"x":{"field":"i","type":"quantitative"},"y":{"datum":12.19,"type":"quantitative"},"text":{"field":"t"}}}
]},
{"width":1072,"height":20,
"layer":[
{"data":{"name":"minor"},
"mark":{"type":"rule","color":"#c00000","strokeWidth":1},
"encoding":{"x":{"field":"i","type":"quantitative","scale":{"domain":[-1.72,427.08],"nice":false,"zero":false},"axis":null},"y":{"datum":0,"type":"quantitative","scale":{"domain":[20,0],"nice":false},"axis":null},"y2":{"datum":3}}},
{"data":{"name":"lower"},
"mark":{"type":"rule","color":"#c00000","strokeWidth":1},
"encoding":{"x":{"field":"i","type":"quantitative"},"y":{"datum":16,"type":"quantitative"},"y2":{"datum":20}}},
{"data":{"name":"months"},
"mark":{"type":"rule","color":"#c00000","strokeWidth":1},
"encoding":{"x":{"field":"i","type":"quantitative"},"y":{"datum":0,"type":"quantitative"},"y2":{"datum":16}}},
{"data":{"values":[{"i":-1.72,"i2":389.5,"r":0.5},{"i":-1.72,"i2":389.5,"r":16}]},
"mark":{"type":"rule","color":"#c80000","strokeWidth":1.3},
"encoding":{"x":{"field":"i","type":"quantitative"},"x2":{"field":"i2"},"y":{"field":"r","type":"quantitative"}}},
{"data":{"name":"months"},
"mark":{"type":"text","align":"left","baseline":"middle","dx":2,"fontSize":13,"font":"Liberation Sans","color":"#ff3232"},
"encoding":{"x":{"field":"i","type":"quantitative"},"y":{"datum":8.5,"type":"quantitative"},"text":{"field":"m"}}},
{"data":{"values":[{"i":418.3,"t":"www.60lt.com"}]},
"mark":{"type":"text","fontSize":14,"fontWeight":"bold","font":"Liberation Serif","color":"#ffffff"},
"encoding":{"x":{"field":"i","type":"quantitative"},"y":{"datum":9,"type":"quantitative"},"text":{"field":"t"}}}
]}
]
}
